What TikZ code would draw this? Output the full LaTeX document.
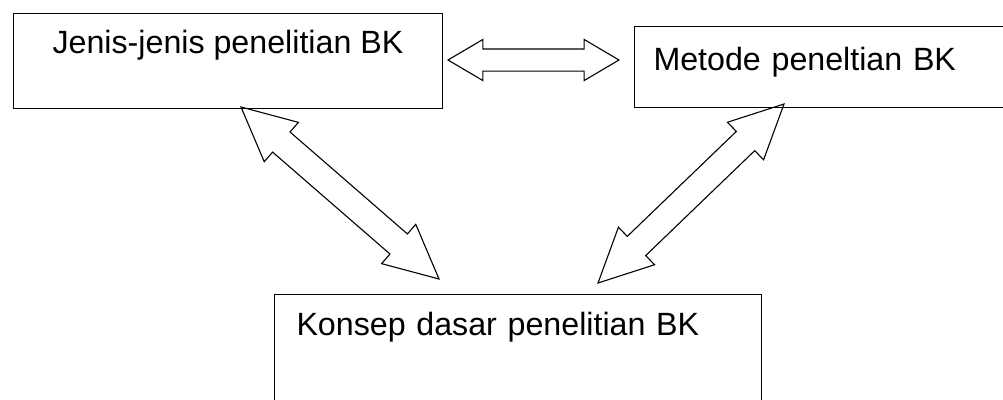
\documentclass[tikz,border=0pt]{standalone}
\usepackage{fontspec}
\setmainfont{Liberation Sans}
\usetikzlibrary{calc, positioning, shapes.arrows}

% block arrow with two heads, laid from one named point to another
\newcommand{\twoway}[3]{%
  \path let \p1 = ($(#2)-(#1)$), \n1 = {atan2(\y1,\x1)}, \n2 = {veclen(\x1,\y1)} in
    node[#3, rotate=\n1, minimum height=\n2] at ($(#1)!0.5!(#2)$) {};}

\begin{document}
\begin{tikzpicture}[x=1pt, y=-1pt,
  box/.style={draw, line width=1pt, rectangle, inner ysep=0pt, anchor=north west, font=\fontsize{32.2}{38}\selectfont},
  flat/.style={double arrow, draw, line width=1.1pt, inner xsep=0pt, inner ysep=10.5pt, double arrow head extend=9.5pt, double arrow tip angle=61},
  slant/.style={double arrow, draw, line width=1.1pt, inner xsep=0pt, inner ysep=12.75pt, double arrow head extend=12.75pt, double arrow tip angle=52}]
  \clip (0,0) rectangle (1003,399);

  \node[box, minimum width=429pt, text height=40pt, text depth=55pt] (jenis) at (13,13) {Jenis-jenis penelitian BK};
  \node[box, inner xsep=19pt, text width=338pt, align=left, text height=44pt, text depth=37pt] (metode) at (634,26) {Metode peneltian BK};
  \node[box, inner xsep=22pt, text width=443pt, align=left, text height=41pt, text depth=85pt] (konsep) at (274,294) {Konsep dasar penelitian BK};

  \coordinate (jm) at (448,60);
  \coordinate (mj) at (619,60);
  \coordinate (jk) at (241,107);
  \coordinate (kj) at (439,279);
  \coordinate (mk) at (784,104);
  \coordinate (km) at (598,283);

  \twoway{jm}{mj}{flat}
  \twoway{jk}{kj}{slant}
  \twoway{mk}{km}{slant}
\end{tikzpicture}
\end{document}
